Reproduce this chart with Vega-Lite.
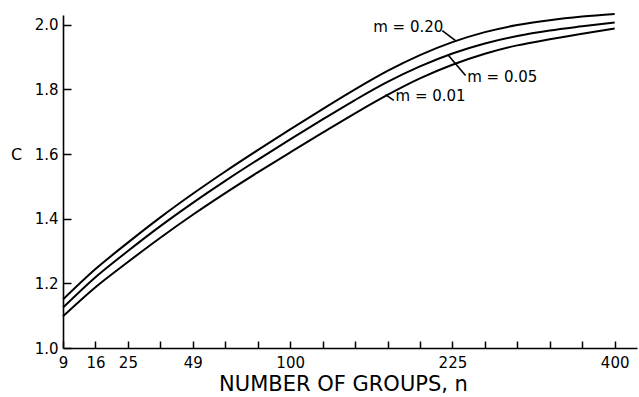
{
  "$schema": "https://vega.github.io/schema/vega-lite/v6.json",
  "width": 574,
  "height": 333,
  "autosize": {"type": "none"},
  "padding": {"left": 63, "top": 15, "right": 2, "bottom": 49},
  "background": "white",
  "config": {"view": {"stroke": null}, "font": "DejaVu Sans"},
  "datasets": {
    "curves": [
      {"m": "0.20", "n": 9, "C": 1.150}, {"m": "0.20", "n": 16, "C": 1.244}, {"m": "0.20", "n": 25, "C": 1.326},
      {"m": "0.20", "n": 36, "C": 1.404}, {"m": "0.20", "n": 49, "C": 1.477}, {"m": "0.20", "n": 64, "C": 1.546},
      {"m": "0.20", "n": 81, "C": 1.612}, {"m": "0.20", "n": 100, "C": 1.676}, {"m": "0.20", "n": 121, "C": 1.739},
      {"m": "0.20", "n": 144, "C": 1.800}, {"m": "0.20", "n": 169, "C": 1.857}, {"m": "0.20", "n": 196, "C": 1.906},
      {"m": "0.20", "n": 225, "C": 1.946}, {"m": "0.20", "n": 256, "C": 1.977}, {"m": "0.20", "n": 289, "C": 1.999},
      {"m": "0.20", "n": 324, "C": 2.014}, {"m": "0.20", "n": 361, "C": 2.025}, {"m": "0.20", "n": 400, "C": 2.033},
      {"m": "0.05", "n": 9, "C": 1.125}, {"m": "0.05", "n": 16, "C": 1.219}, {"m": "0.05", "n": 25, "C": 1.300},
      {"m": "0.05", "n": 36, "C": 1.377}, {"m": "0.05", "n": 49, "C": 1.449}, {"m": "0.05", "n": 64, "C": 1.517},
      {"m": "0.05", "n": 81, "C": 1.582}, {"m": "0.05", "n": 100, "C": 1.645}, {"m": "0.05", "n": 121, "C": 1.707},
      {"m": "0.05", "n": 144, "C": 1.767}, {"m": "0.05", "n": 169, "C": 1.823}, {"m": "0.05", "n": 196, "C": 1.871},
      {"m": "0.05", "n": 225, "C": 1.911}, {"m": "0.05", "n": 256, "C": 1.942}, {"m": "0.05", "n": 289, "C": 1.965},
      {"m": "0.05", "n": 324, "C": 1.982}, {"m": "0.05", "n": 361, "C": 1.995}, {"m": "0.05", "n": 400, "C": 2.007},
      {"m": "0.01", "n": 9, "C": 1.098}, {"m": "0.01", "n": 16, "C": 1.188}, {"m": "0.01", "n": 25, "C": 1.266},
      {"m": "0.01", "n": 36, "C": 1.341}, {"m": "0.01", "n": 49, "C": 1.412}, {"m": "0.01", "n": 64, "C": 1.479},
      {"m": "0.01", "n": 81, "C": 1.543}, {"m": "0.01", "n": 100, "C": 1.605}, {"m": "0.01", "n": 121, "C": 1.666},
      {"m": "0.01", "n": 144, "C": 1.726}, {"m": "0.01", "n": 169, "C": 1.783}, {"m": "0.01", "n": 196, "C": 1.834},
      {"m": "0.01", "n": 225, "C": 1.876}, {"m": "0.01", "n": 256, "C": 1.910}, {"m": "0.01", "n": 289, "C": 1.936},
      {"m": "0.01", "n": 324, "C": 1.955}, {"m": "0.01", "n": 361, "C": 1.972}, {"m": "0.01", "n": 400, "C": 1.988}
    ],
    "leaders": [
      {"m": "0.20", "n1": 215.7, "c1": 1.982, "n2": 227.9, "c2": 1.951},
      {"m": "0.05", "n1": 221.4, "c1": 1.905, "n2": 237.3, "c2": 1.843},
      {"m": "0.01", "n1": 167.4, "c1": 1.784, "n2": 174.1, "c2": 1.766}
    ],
    "labels": [
      {"label": "m = 0.20", "n": 157.7, "C": 1.993},
      {"label": "m = 0.05", "n": 238.9, "C": 1.838},
      {"label": "m = 0.01", "n": 175.5, "C": 1.779}
    ]
  },
  "layer": [
    {
      "data": {"name": "curves"},
      "mark": {"type": "line", "color": "black", "strokeWidth": 2, "clip": false, "interpolate": "monotone"},
      "encoding": {
        "x": {
          "field": "n", "type": "quantitative",
          "scale": {"type": "sqrt", "domain": [9, 428], "zero": false, "nice": false},
          "axis": {
            "title": "NUMBER OF GROUPS, n",
            "titleFont": "DejaVu Sans", "titleFontSize": 21, "titleFontWeight": "normal", "titleColor": "black",
            "titleX": 280, "titleY": 36, "titleBaseline": "middle", "titleAlign": "center",
            "values": [9, 16, 25, 36, 49, 64, 81, 100, 121, 144, 169, 196, 225, 256, 289, 324, 361, 400],
            "tickCount": 40,
            "labelExpr": "indexof([9, 16, 25, 49, 100, 225, 400], datum.value) >= 0 ? datum.label : ''",
            "labelFont": "DejaVu Sans", "labelFontSize": 15, "labelColor": "black",
            "labelPadding": 14, "labelOverlap": false, "labelFlush": false, "labelBound": false,
            "tickSize": -7, "tickColor": "black", "tickWidth": 1.5,
            "domainColor": "black", "domainWidth": 1.6, "grid": false
          }
        },
        "y": {
          "field": "C", "type": "quantitative",
          "scale": {"domain": [1, 2.03], "zero": false, "nice": false},
          "axis": {
            "title": "C", "titleAngle": 0, "titleX": -47, "titleY": 139,
            "titleAlign": "center", "titleBaseline": "middle",
            "titleFont": "DejaVu Sans", "titleFontSize": 16, "titleFontWeight": "normal", "titleColor": "black",
            "values": [1, 1.2, 1.4, 1.6, 1.8, 2.0], "format": ".1f", "tickCount": 20,
            "labelFont": "DejaVu Sans", "labelFontSize": 15, "labelColor": "black",
            "labelPadding": 13, "labelOverlap": false, "labelFlush": false,
            "tickSize": -8, "tickColor": "black", "tickWidth": 1.5,
            "domainColor": "black", "domainWidth": 1.6, "grid": false
          }
        },
        "detail": {"field": "m", "type": "nominal"}
      }
    },
    {
      "data": {"name": "leaders"},
      "mark": {"type": "rule", "color": "black", "strokeWidth": 1.6},
      "encoding": {
        "x": {"field": "n1", "type": "quantitative"},
        "y": {"field": "c1", "type": "quantitative"},
        "x2": {"field": "n2"},
        "y2": {"field": "c2"}
      }
    },
    {
      "data": {"name": "labels"},
      "mark": {"type": "text", "align": "left", "baseline": "middle", "fontSize": 15, "font": "DejaVu Sans", "color": "black"},
      "encoding": {
        "x": {"field": "n", "type": "quantitative"},
        "y": {"field": "C", "type": "quantitative"},
        "text": {"field": "label"}
      }
    }
  ]
}
